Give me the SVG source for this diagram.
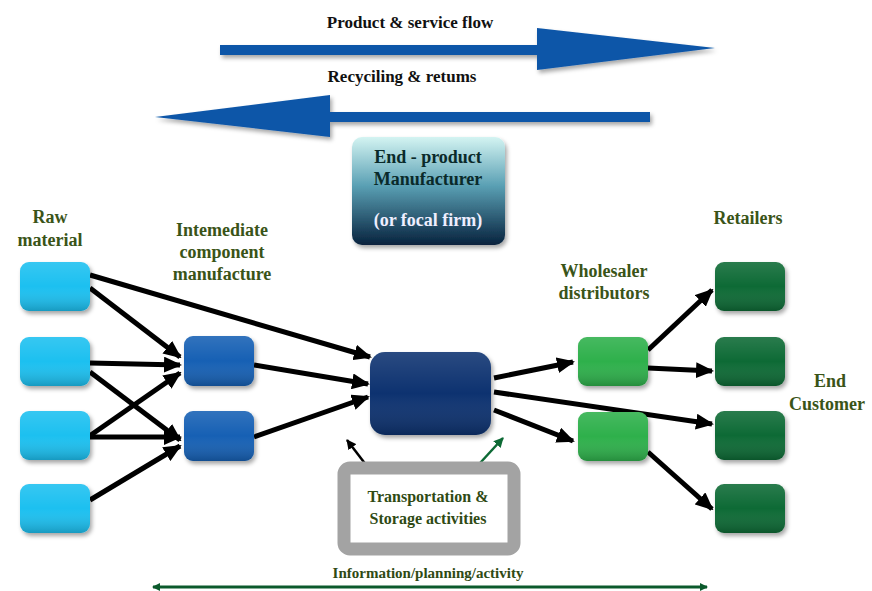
<svg xmlns="http://www.w3.org/2000/svg" width="872" height="591" viewBox="0 0 872 591">
<style>
.t{font-family:"Liberation Serif","DejaVu Serif","Times New Roman",serif;font-weight:bold;text-anchor:middle}
.lbl{font-size:18px;fill:#3a5418}
.hdr{font-size:17px;fill:#111}
.c{stroke:#000;stroke-width:5;fill:none;marker-end:url(#ah)}
</style>
<defs>
<marker id="ah" markerUnits="userSpaceOnUse" markerWidth="18" markerHeight="16" refX="16" refY="8" orient="auto"><path d="M0,0 L18,8 L0,16 Z" fill="#000"/></marker>
<marker id="ahs" markerUnits="userSpaceOnUse" markerWidth="10" markerHeight="10" refX="9" refY="5" orient="auto"><path d="M0,0 L10,5 L0,10 Z" fill="#000"/></marker>
<marker id="ahg" markerUnits="userSpaceOnUse" markerWidth="10" markerHeight="10" refX="9" refY="5" orient="auto"><path d="M0,0 L10,5 L0,10 Z" fill="#0d6a35"/></marker>
<marker id="ahb" markerUnits="userSpaceOnUse" markerWidth="8" markerHeight="8" refX="7" refY="4" orient="auto-start-reverse"><path d="M0,0 L8,4 L0,8 Z" fill="#0b5a2c"/></marker>
<linearGradient id="ep" x1="0" y1="0" x2="0" y2="1"><stop offset="0" stop-color="#d4f4f2"/><stop offset="0.45" stop-color="#5aa0b4"/><stop offset="1" stop-color="#07223e"/></linearGradient>
<linearGradient id="sh" x1="0" y1="0" x2="0" y2="1"><stop offset="0" stop-color="#fff" stop-opacity="0.12"/><stop offset="0.5" stop-color="#fff" stop-opacity="0"/><stop offset="1" stop-color="#000" stop-opacity="0.2"/></linearGradient>
<filter id="ds" x="-20%" y="-20%" width="150%" height="150%"><feDropShadow dx="2" dy="3" stdDeviation="2" flood-color="#000" flood-opacity="0.35"/></filter>
</defs>
<rect width="872" height="591" fill="#fff"/>

<g id="flow-arrows" filter="url(#ds)">
<path d="M220,45 L537,45 L537,28 L715,48 L537,70 L537,55 L220,55 Z" fill="#0d56a8"/>
<path d="M650,112 L330,112 L330,95 L155,117 L330,137 L330,122 L650,122 Z" fill="#0d56a8"/>
</g>
<text class="t hdr" x="410" y="28">Product &amp; service flow</text>
<text class="t hdr" x="402" y="82">Recyciling &amp; retums</text>

<g id="end-product">
<rect x="352" y="137" width="153" height="108" rx="10" fill="url(#ep)" filter="url(#ds)"/>
<text class="t" x="428" y="163" font-size="18" fill="#0a2a2a">End - product</text>
<text class="t" x="428" y="185" font-size="18" fill="#0a2a2a">Manufacturer</text>
<text class="t" x="428" y="226" font-size="18" fill="#eef">(or focal firm)</text>
</g>

<g id="labels">
<text class="t lbl" x="50" y="223">Raw</text>
<text class="t lbl" x="50" y="246">material</text>
<text class="t lbl" x="222" y="236">Intemediate</text>
<text class="t lbl" x="222" y="258">component</text>
<text class="t lbl" x="222" y="280">manufacture</text>
<text class="t lbl" x="604" y="277">Wholesaler</text>
<text class="t lbl" x="604" y="299">distributors</text>
<text class="t lbl" x="748" y="224">Retailers</text>
<text class="t lbl" x="830" y="387">End</text>
<text class="t lbl" x="827" y="410">Customer</text>
</g>

<g id="connectors">
<line class="c" x1="90" y1="275" x2="370" y2="357"/>
<line class="c" x1="90" y1="288" x2="180" y2="357"/>
<line class="c" x1="90" y1="363" x2="180" y2="365"/>
<line class="c" x1="90" y1="372" x2="180" y2="440"/>
<line class="c" x1="88" y1="437" x2="180" y2="373"/>
<line class="c" x1="88" y1="437" x2="180" y2="437"/>
<line class="c" x1="90" y1="500" x2="180" y2="446"/>
<line class="c" x1="254" y1="365" x2="368" y2="384"/>
<line class="c" x1="254" y1="437" x2="368" y2="397"/>
<line class="c" x1="494" y1="378" x2="573" y2="362"/>
<line class="c" x1="494" y1="392" x2="712" y2="424"/>
<line class="c" x1="494" y1="410" x2="573" y2="441"/>
<line class="c" x1="648" y1="350" x2="712" y2="290"/>
<line class="c" x1="648" y1="368" x2="712" y2="371"/>
<line class="c" x1="648" y1="452" x2="712" y2="509"/>
<line x1="373" y1="474" x2="347" y2="440" stroke="#000" stroke-width="2.5" marker-end="url(#ahs)"/>
<line x1="470" y1="474" x2="503" y2="438" stroke="#0d6a35" stroke-width="2.5" marker-end="url(#ahg)"/>
<line x1="153" y1="587" x2="707" y2="587" stroke="#0b5a2c" stroke-width="3" marker-start="url(#ahb)" marker-end="url(#ahb)"/>
</g>

<g id="raw-1"><rect x="20" y="262" width="70" height="49" rx="9" fill="#1ec0f0" filter="url(#ds)"/><rect x="20" y="262" width="70" height="49" rx="9" fill="url(#sh)"/></g>
<g id="raw-2"><rect x="20" y="337" width="70" height="49" rx="9" fill="#1ec0f0" filter="url(#ds)"/><rect x="20" y="337" width="70" height="49" rx="9" fill="url(#sh)"/></g>
<g id="raw-3"><rect x="20" y="411" width="70" height="49" rx="9" fill="#1ec0f0" filter="url(#ds)"/><rect x="20" y="411" width="70" height="49" rx="9" fill="url(#sh)"/></g>
<g id="raw-4"><rect x="20" y="484" width="70" height="49" rx="9" fill="#1ec0f0" filter="url(#ds)"/><rect x="20" y="484" width="70" height="49" rx="9" fill="url(#sh)"/></g>

<g id="int-1"><rect x="184" y="336" width="70" height="50" rx="9" fill="#1560b4" filter="url(#ds)"/><rect x="184" y="336" width="70" height="50" rx="9" fill="url(#sh)"/></g>
<g id="int-2"><rect x="184" y="411" width="70" height="50" rx="9" fill="#1560b4" filter="url(#ds)"/><rect x="184" y="411" width="70" height="50" rx="9" fill="url(#sh)"/></g>

<g id="focal"><rect x="370" y="352" width="121" height="83" rx="15" fill="#0a3270" filter="url(#ds)"/><rect x="370" y="352" width="121" height="83" rx="15" fill="url(#sh)"/></g>

<g id="whole-1"><rect x="578" y="337" width="70" height="49" rx="9" fill="#2eb04c" filter="url(#ds)"/><rect x="578" y="337" width="70" height="49" rx="9" fill="url(#sh)"/></g>
<g id="whole-2"><rect x="578" y="412" width="70" height="49" rx="9" fill="#2eb04c" filter="url(#ds)"/><rect x="578" y="412" width="70" height="49" rx="9" fill="url(#sh)"/></g>

<g id="ret-1"><rect x="715" y="262" width="70" height="49" rx="9" fill="#0e6a34" filter="url(#ds)"/><rect x="715" y="262" width="70" height="49" rx="9" fill="url(#sh)"/></g>
<g id="ret-2"><rect x="715" y="337" width="70" height="49" rx="9" fill="#0e6a34" filter="url(#ds)"/><rect x="715" y="337" width="70" height="49" rx="9" fill="url(#sh)"/></g>
<g id="ret-3"><rect x="715" y="411" width="70" height="49" rx="9" fill="#0e6a34" filter="url(#ds)"/><rect x="715" y="411" width="70" height="49" rx="9" fill="url(#sh)"/></g>
<g id="ret-4"><rect x="715" y="484" width="70" height="49" rx="9" fill="#0e6a34" filter="url(#ds)"/><rect x="715" y="484" width="70" height="49" rx="9" fill="url(#sh)"/></g>

<g id="transport">
<rect x="344" y="468" width="170" height="81" rx="6" fill="#fff" stroke="#a3a3a3" stroke-width="13"/>
<text class="t" x="428" y="502" font-size="16" fill="#2f4a14">Transportation &amp;</text>
<text class="t" x="428" y="524" font-size="16" fill="#2f4a14">Storage activities</text>
</g>
<text class="t" x="428" y="578" font-size="15" fill="#2f4a14">Information/planning/activity</text>
</svg>
